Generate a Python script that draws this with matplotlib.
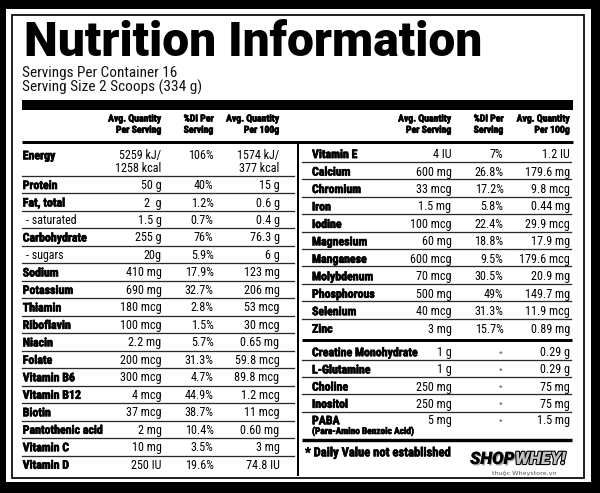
import matplotlib
matplotlib.use("Agg")
import matplotlib.pyplot as plt
from matplotlib import font_manager
from matplotlib.patches import Rectangle
import matplotlib.patheffects as pe

# ---------------- data ----------------
title = "Nutrition Information"
servings_line = "Servings Per Container 16"
size_line = "Serving Size 2 Scoops (334 g)"
col_headers = ["Avg. Quantity\nPer Serving", "%DI Per\nServing", "Avg. Quantity\nPer 100g"]

left_names = ["Energy", "Protein", "Fat, total", "- saturated", "Carbohydrate", "- sugars",
              "Sodium", "Potassium", "Thiamin", "Riboflavin", "Niacin", "Folate",
              "Vitamin B6", "Vitamin B12", "Biotin", "Pantothenic acid", "Vitamin C", "Vitamin D"]
left_serv = ["5259 kJ/\n1258 kcal", "50 g", "2  g", "1.5 g", "255 g", "20g", "410 mg", "690 mg",
             "180 mcg", "100 mcg", "2.2 mg", "200 mcg", "300 mcg", "4 mcg", "37 mcg", "2 mg",
             "10 mg", "250 IU"]
left_di = ["106%", "40%", "1.2%", "0.7%", "76%", "5.9%", "17.9%", "32.7%", "2.8%", "1.5%",
           "5.7%", "31.3%", "4.7%", "44.9%", "38.7%", "10.4%", "3.5%", "19.6%"]
left_100 = ["1574 kJ/\n377 kcal", "15 g", "0.6 g", "0.4 g", "76.3 g", "6 g", "123 mg", "206 mg",
            "53 mcg", "30 mcg", "0.65 mg", "59.8 mcg", "89.8 mcg", "1.2 mcg", "11 mcg", "0.60 mg",
            "3 mg", "74.8 IU"]

right_names = ["Vitamin E", "Calcium", "Chromium", "Iron", "Iodine", "Magnesium", "Manganese",
               "Molybdenum", "Phosphorous", "Selenium", "Zinc"]
right_serv = ["4 IU", "600 mg", "33 mcg", "1.5 mg", "100 mcg", "60 mg", "600 mcg", "70 mcg",
              "500 mg", "40 mcg", "3 mg"]
right_di = ["7%", "26.8%", "17.2%", "5.8%", "22.4%", "18.8%", "9.5%", "30.5%", "49%", "31.3%", "15.7%"]
right_100 = ["1.2 IU", "179.6 mg", "9.8 mcg", "0.44 mg", "29.9 mcg", "17.9 mg", "179.6 mcg",
             "20.9 mg", "149.7 mg", "11.9 mcg", "0.89 mg"]

other_names = ["Creatine Monohydrate", "L-Glutamine", "Choline", "Inositol", "PABA"]
other_serv = ["1 g", "1 g", "250 mg", "250 mg", "5 mg"]
other_di = ["*", "*", "*", "*", "*"]
other_100 = ["0.29 g", "0.29 g", "75 mg", "75 mg", "1.5 mg"]
paba_note = "(Para-Amino Benzoic Acid)"

footnote = "* Daily Value not established"
logo_a = "SHOP"
logo_b = "WHEY!"
logo_sub = "thuộc Wheystore.vn"

# ---------------- fonts ----------------
ttf = font_manager.fontManager.ttflist
avail = {f.name for f in ttf}


def wnum(w):
    if isinstance(w, str):
        return font_manager.weight_dict.get(w, 400)
    return int(w)


NARROW = next((n for n in ["Liberation Sans Narrow", "Roboto Condensed", "Arial Narrow"] if n in avail),
              "Liberation Sans")
HEAVY, HEAVY_W = "DejaVu Sans", "bold"
for fam in ["Roboto", "Lato", "Inter", "Noto Sans", "Open Sans"]:
    ws = [wnum(f.weight) for f in ttf if f.name == fam and f.style == "normal"]
    if ws and max(ws) >= 800:
        HEAVY, HEAVY_W = fam, max(ws)
        break

# ---------------- figure ----------------
fig = plt.figure(figsize=(6.0, 4.93), dpi=100)
fig.patch.set_facecolor("black")
ax = fig.add_axes([0, 0, 1, 1])
ax.set_xlim(0, 600)
ax.set_ylim(493, 0)
ax.axis("off")
renderer = fig.canvas.get_renderer()
PT = 0.72  # px -> pt at 100 dpi
HEAVIER = [pe.withStroke(linewidth=0.45, foreground="black")]


def fit(s, width_px, **kw):
    t = ax.text(0, 0, s, fontsize=10, **kw)
    w = t.get_window_extent(renderer).width
    t.remove()
    return 10.0 * width_px / w


ax.add_patch(Rectangle((6, 9), 585, 473, facecolor="white", edgecolor="none", zorder=0))
ax.add_patch(Rectangle((11.5, 14.8), 572.3, 463.5, fill=False, edgecolor="black", lw=1.7 * PT, zorder=1))

# title and subtitle
fs_title = fit(title, 458, family=HEAVY, weight=HEAVY_W)
ax.text(24, 56, title, fontsize=fs_title, family=HEAVY, weight=HEAVY_W, ha="left", va="baseline", color="black")
fs_sub = fit(servings_line, 154, family=NARROW)
ax.text(22, 77.0, servings_line, fontsize=fs_sub, family=NARROW, ha="left", va="baseline", color="#111")
ax.text(22, 92.0, size_line, fontsize=fs_sub, family=NARROW, ha="left", va="baseline", color="#111")

# bars
ax.add_patch(Rectangle((22, 99.5), 551, 10.5, facecolor="black", edgecolor="none"))
ax.plot([22, 573], [141.5, 141.5], color="black", lw=3.0 * PT, solid_capstyle="butt")
ax.plot([298, 298], [143, 476], color="black", lw=2.0 * PT, solid_capstyle="butt")

fs_head = fit("Avg. Quantity", 53, family=NARROW, weight="bold")
fs_name = fit("Pantothenic acid", 80, family=NARROW, weight="bold")
fs_val = fit("180 mcg", 41, family=NARROW)

left_cols = [161.5, 213.5, 279.5]
right_cols = [451.5, 503.5, 570.0]
for cols in (left_cols, right_cols):
    for x, h in zip(cols, col_headers):
        l1, l2 = h.split("\n")
        ax.text(x, 121.5, l1, fontsize=fs_head, family=NARROW, weight="bold", ha="right", va="baseline",
                path_effects=HEAVIER)
        ax.text(x, 132.8, l2, fontsize=fs_head, family=NARROW, weight="bold", ha="right", va="baseline",
                path_effects=HEAVIER)

LINE_C = "#2a2a2a"
LINE_W = 1.3 * PT
BASE_OFF = 4.3

# ---------------- left table ----------------
pitch_l = 17.48
first_l = 176.0
for i, (n, s, d, h) in enumerate(zip(left_names, left_serv, left_di, left_100)):
    bold = not n.startswith("-")
    nx = 22.7 if bold else 26.0
    if i == 0:
        b1, b2 = 159.3, 172.0
        ax.text(nx, b1, n, fontsize=fs_name, family=NARROW, weight="bold", ha="left", va="baseline",
                path_effects=HEAVIER)
        for x, v in zip(left_cols, (s, d, h)):
            parts = v.split("\n")
            ax.text(x, b1, parts[0], fontsize=fs_val, family=NARROW, ha="right", va="baseline")
            if len(parts) > 1:
                ax.text(x, b2, parts[1], fontsize=fs_val, family=NARROW, ha="right", va="baseline")
        ax.plot([22, 294], [first_l, first_l], color=LINE_C, lw=LINE_W)
        continue
    mid = first_l + (i - 0.5) * pitch_l
    b = mid + BASE_OFF
    ax.text(nx, b, n, fontsize=fs_name, family=NARROW, weight="bold" if bold else "normal",
            ha="left", va="baseline", path_effects=HEAVIER if bold else None)
    for x, v in zip(left_cols, (s, d, h)):
        ax.text(x, b, v, fontsize=fs_val, family=NARROW, ha="right", va="baseline")
    if i < len(left_names) - 1:
        yl = first_l + i * pitch_l
        ax.plot([22, 294], [yl, yl], color=LINE_C, lw=LINE_W)

# ---------------- right table ----------------
pitch_r = 17.46
first_r = 161.7
for j, (n, s, d, h) in enumerate(zip(right_names, right_serv, right_di, right_100)):
    mid = first_r + (j - 0.5) * pitch_r
    b = mid + BASE_OFF + 0.8
    ax.text(312, b, n, fontsize=fs_name, family=NARROW, weight="bold", ha="left", va="baseline",
            path_effects=HEAVIER)
    for x, v in zip(right_cols, (s, d, h)):
        ax.text(x, b, v, fontsize=fs_val, family=NARROW, ha="right", va="baseline")
    if j < len(right_names) - 1:
        yl = first_r + j * pitch_r
        ax.plot([302, 571], [yl, yl], color=LINE_C, lw=LINE_W)

ax.plot([302, 572], [339.5, 339.5], color="black", lw=3.0 * PT, solid_capstyle="butt")

pitch_o = 17.2
first_o = 360.0
for k, (n, s, d, h) in enumerate(zip(other_names, other_serv, other_di, other_100)):
    if n == "PABA":
        b = 424.3
    else:
        b = first_o + (k - 0.5) * pitch_o + BASE_OFF + 0.5
    ax.text(312, b, n, fontsize=fs_name, family=NARROW, weight="bold", ha="left", va="baseline",
            path_effects=HEAVIER)
    ax.text(right_cols[0], b, s, fontsize=fs_val, family=NARROW, ha="right", va="baseline")
    ax.text(501, b - 0.5, d, fontsize=fs_val * 0.7, family=NARROW, ha="center", va="baseline", color="#555")
    ax.text(right_cols[2], b, h, fontsize=fs_val, family=NARROW, ha="right", va="baseline")
    if k < len(other_names) - 1:
        yl = first_o + k * pitch_o
        ax.plot([302, 571], [yl, yl], color=LINE_C, lw=LINE_W)

fs_note = fit(paba_note, 102, family=NARROW, weight="bold")
ax.text(312, 434.0, paba_note, fontsize=fs_note, family=NARROW, weight="bold", ha="left", va="baseline",
        path_effects=HEAVIER)
ax.plot([302, 572], [440, 440], color="black", lw=3.4 * PT, solid_capstyle="butt")

fs_foot = fit(footnote, 146, family=NARROW, weight="bold")
ax.text(305, 456.3, footnote, fontsize=fs_foot, family=NARROW, weight="bold", ha="left", va="baseline",
        path_effects=HEAVIER)

# ---------------- logo ----------------
fs_logo = fit(logo_a + logo_b, 95, family=HEAVY, weight=HEAVY_W, style="italic")
ta = ax.text(470, 464, logo_a, fontsize=fs_logo, family=HEAVY, weight=HEAVY_W, style="italic",
             ha="left", va="baseline", color="black",
             path_effects=[pe.withSimplePatchShadow(offset=(1, -1), shadow_rgbFace="#888", alpha=0.8), pe.Normal()])
wa = ta.get_window_extent(renderer).width
ax.text(470 + wa + 0.5, 464, logo_b, fontsize=fs_logo, family=HEAVY, weight=HEAVY_W, style="italic",
        ha="left", va="baseline", color="#c4c4c4",
        path_effects=[pe.Stroke(linewidth=1.6, foreground="black"), pe.Normal()])
ax.text(524, 474.5, logo_sub, fontsize=4.6, family="DejaVu Sans", ha="center", va="baseline", color="#555")

fig.savefig("out.png", dpi=100, facecolor="black")
